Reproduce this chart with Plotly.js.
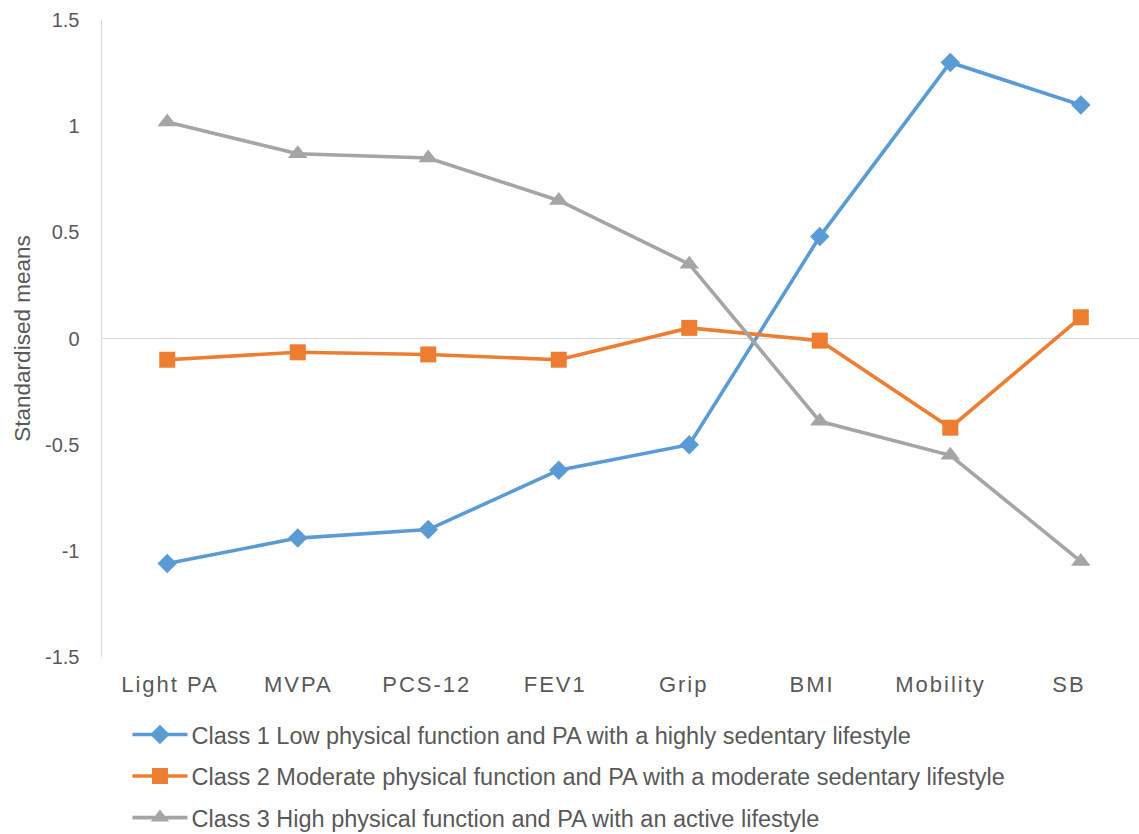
<!DOCTYPE html>
<html>
<head>
<meta charset="utf-8">
<script src="https://cdn.plot.ly/plotly-3.0.1.min.js"></script>
<style>
  html, body { margin: 0; padding: 0; background: #fff; }
  #chart { width: 1139px; height: 834px; }
  .x2tick text { letter-spacing: 2px; }
</style>
</head>
<body>
<div id="chart"></div>
<script>
const categories = ["Light PA", "MVPA", "PCS-12", "FEV1", "Grip", "BMI", "Mobility", "SB"];
const seriesNames = [
  "Class 1 Low physical function and PA with a highly sedentary lifestyle",
  "Class 2 Moderate physical function and PA with a moderate sedentary lifestyle",
  "Class 3 High physical function and PA with an active lifestyle"
];
const class1 = [-1.06, -0.94, -0.90, -0.62, -0.50, 0.48, 1.30, 1.10];
const class2 = [-0.10, -0.065, -0.075, -0.10, 0.05, -0.01, -0.42, 0.10];
const class3 = [1.02, 0.87, 0.85, 0.65, 0.35, -0.39, -0.55, -1.05];
const yTicks = [-1.5, -1, -0.5, 0, 0.5, 1, 1.5];

const colors = ["#5b9bd5", "#ed7d31", "#a5a5a5"];
const symbols = ["diamond", "square", "triangle-up"];
const msizes = [15, 16, 17];
const allSeries = [class1, class2, class3];

const traces = allSeries.map((vals, i) => ({
  type: "scatter",
  mode: "lines+markers",
  x: categories,
  y: vals,
  name: seriesNames[i],
  legendgroup: "g" + i,
  line: { color: colors[i], width: 3.6 },
  marker: { color: colors[i], symbol: symbols[i], size: msizes[i] }
}));

// invisible helper trace that carries the category tick labels axis
traces.push({
  type: "scatter",
  mode: "markers",
  x: categories.map((c, i) => i),
  y: categories.map(() => null),
  xaxis: "x2",
  yaxis: "y",
  showlegend: false,
  hoverinfo: "skip",
  marker: { opacity: 0 }
});

const layout = {
  width: 1139,
  height: 834,
  margin: { l: 102, r: 0, t: 20, b: 177 },
  paper_bgcolor: "#ffffff",
  plot_bgcolor: "#ffffff",
  font: { family: "Liberation Sans, Arial, sans-serif", color: "#595959", size: 20 },
  showlegend: true,
  legend: {
    orientation: "v",
    x: 0.0284, xanchor: "left",
    y: -0.0765, yanchor: "top",
    font: { size: 23.5, color: "#595959" },
    tracegroupgap: 8,
    itemwidth: 50
  },
  xaxis: {
    type: "category",
    range: [-0.5, 7.446],
    showgrid: false,
    showline: false,
    zeroline: false,
    ticks: "",
    showticklabels: false,
    fixedrange: true
  },
  xaxis2: {
    overlaying: "x",
    anchor: "y",
    side: "bottom",
    range: [-0.529, 7.545],
    tickvals: categories.map((c, i) => i),
    ticktext: categories,
    showgrid: false,
    showline: false,
    zeroline: false,
    ticks: "",
    ticklabelstandoff: 12,
    tickfont: { size: 22, color: "#595959" },
    fixedrange: true
  },
  yaxis: {
    range: [-1.5, 1.5],
    tickvals: yTicks,
    ticktext: yTicks.map(v => String(v)),
    showgrid: false,
    showline: true,
    linecolor: "#d9d9d9",
    linewidth: 1.5,
    zeroline: true,
    zerolinecolor: "#d9d9d9",
    zerolinewidth: 1.5,
    ticks: "",
    ticklabelstandoff: 17,
    tickfont: { size: 20, color: "#595959" },
    title: { text: "Standardised means", font: { size: 22.5, color: "#595959" }, standoff: 8 },
    fixedrange: true
  }
};

Plotly.newPlot("chart", traces, layout, { displayModeBar: false, staticPlot: true }).then(gd => {
  // lengthen legend line samples to resemble the reference legend keys
  gd.querySelectorAll(".legend .legendlines path").forEach(p => p.setAttribute("d", "M1,0h55"));
  gd.querySelectorAll(".legend .legendpoints path").forEach(p => p.setAttribute("transform", "translate(28.5,0)"));
  const lg = gd.querySelector("g.legend");
  if (lg) {
    const m = /translate\(\s*([-\d.]+)[ ,]+([-\d.]+)\s*\)/.exec(lg.getAttribute("transform") || "");
    if (m) lg.setAttribute("transform", "translate(" + m[1] + "," + (parseFloat(m[2]) + 7) + ")");
  }
});
</script>
</body>
</html>
